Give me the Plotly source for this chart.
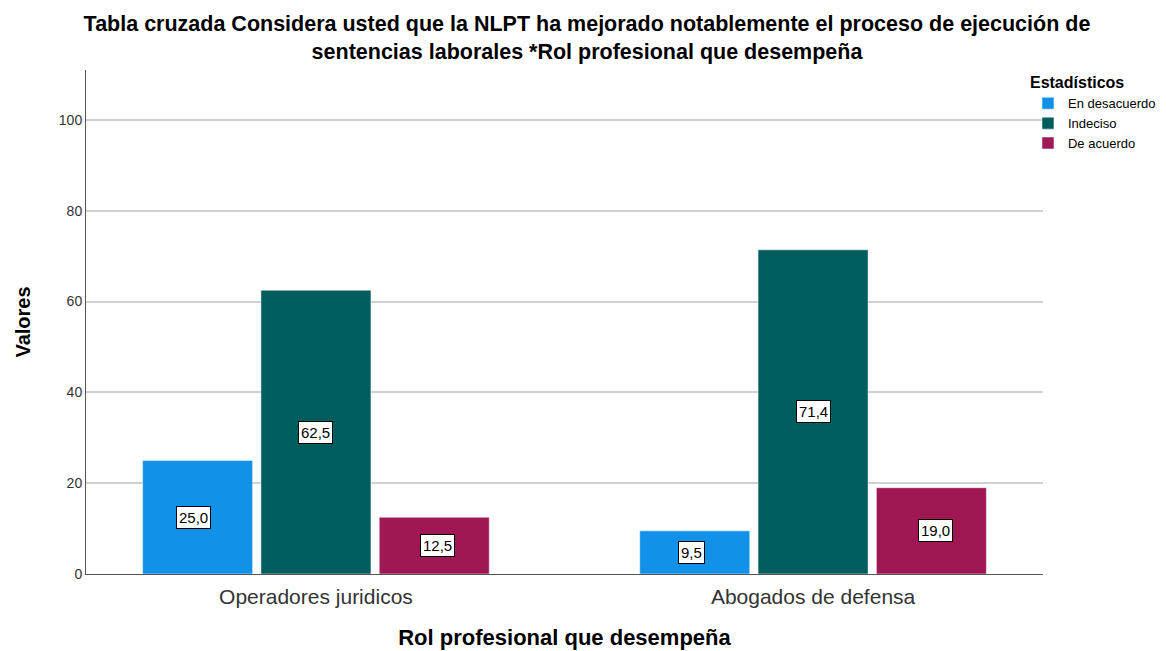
import plotly.graph_objects as go

categorias = ["Operadores juridicos", "Abogados de defensa"]
series = ["En desacuerdo", "Indeciso", "De acuerdo"]
en_desacuerdo = [25.0, 9.5]
indeciso = [62.5, 71.4]
de_acuerdo = [12.5, 19.0]
colores = ["#1192e8", "#005d5d", "#9f1853"]

valores = [en_desacuerdo, indeciso, de_acuerdo]

fig = go.Figure()
for nombre, vals, col in zip(series, valores, colores):
    fig.add_trace(go.Bar(x=categorias, y=vals, name=nombre, marker_color=col,
                         marker_line_color="rgba(255,255,255,0.5)", marker_line_width=1))

# etiquetas en caja blanca en el centro de cada barra
desplaz = [-122, 0, 122]
for vals, dx in zip(valores, desplaz):
    for cat, v in zip(categorias, vals):
        fig.add_annotation(x=cat, y=v / 2, xshift=dx, text=f"{v:.1f}".replace(".", ","),
                           showarrow=False, bgcolor="white", bordercolor="black",
                           borderwidth=1, borderpad=2,
                           font=dict(size=15, color="black", family="Liberation Sans, Arial"))

# la página tiene 8px de margen en el body, así que la figura es algo más pequeña
fig.update_layout(
    width=1158, height=643,
    margin=dict(l=78, r=0, t=62, b=77, autoexpand=False),
    paper_bgcolor="white", plot_bgcolor="white",
    barmode="group", bargap=0.286, bargroupgap=0.07,
    font=dict(family="Liberation Sans, Arial", color="#222"),
    title=dict(text="<b>Tabla cruzada Considera usted que la NLPT ha mejorado notablemente el proceso de ejecución de<br>sentencias laborales *Rol profesional que desempeña</b>",
               x=0.5, xanchor="center", xref="container", y=0.964, yanchor="top",
               font=dict(size=21.5, color="black")),
    legend=dict(title=dict(text="<b>Estadísticos</b>", font=dict(size=16, color="black")),
                x=0.8722, xanchor="left", y=1.005, yanchor="top", bgcolor="rgba(0,0,0,0)",
                font=dict(size=13, color="black"), itemwidth=30, tracegroupgap=0),
    showlegend=True,
)
fig.update_xaxes(domain=[0, 957 / 1080], range=[-0.4625, 1.4625], showline=True, linecolor="#555", linewidth=1,
                 tickfont=dict(size=21, color="#333"), ticks="", ticklabelstandoff=4,
                 title=dict(text="<b>Rol profesional que desempeña</b>", font=dict(size=22, color="black"), standoff=22))
fig.update_yaxes(range=[0, 111], tickvals=[0, 20, 40, 60, 80, 100], showline=True, linecolor="#555", linewidth=1,
                 showgrid=True, gridcolor="#d0d0d0", gridwidth=1.5, zeroline=False,
                 tickfont=dict(size=14, color="#333"), ticks="",
                 title=dict(text="<b>Valores</b>", font=dict(size=20, color="black"), standoff=22))

fig.write_html("out.html")
